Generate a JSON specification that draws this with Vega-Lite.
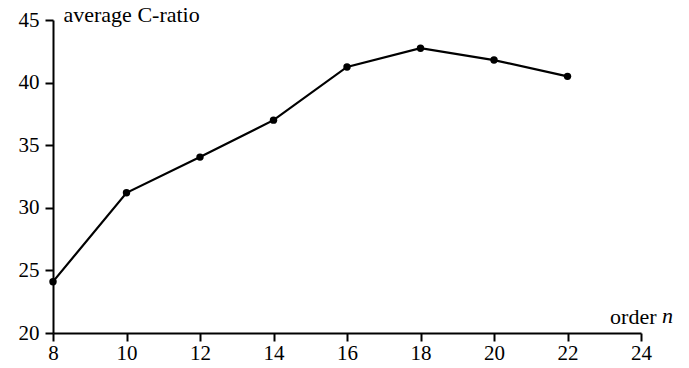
{
  "$schema": "https://vega.github.io/schema/vega-lite/v6.json",
  "width": 588,
  "height": 313,
  "autosize": "none",
  "padding": {"left": 53, "top": 20, "right": 48, "bottom": 35},
  "background": "white",
  "config": {
    "view": {"stroke": null},
    "font": "Liberation Serif",
    "axis": {
      "domainColor": "black",
      "domainWidth": 2,
      "tickColor": "black",
      "tickWidth": 2,
      "tickSize": 8,
      "grid": false,
      "labelFont": "Liberation Serif",
      "labelFontSize": 21,
      "labelColor": "black",
      "titleFont": "Liberation Serif",
      "titleFontSize": 22,
      "titleFontWeight": "normal",
      "titleColor": "black"
    }
  },
  "data": {
    "values": [
      {"n": 8, "ratio": 24.1},
      {"n": 10, "ratio": 31.2},
      {"n": 12, "ratio": 34.05},
      {"n": 14, "ratio": 37.0},
      {"n": 16, "ratio": 41.25},
      {"n": 18, "ratio": 42.75},
      {"n": 20, "ratio": 41.8},
      {"n": 22, "ratio": 40.5}
    ]
  },
  "encoding": {
    "x": {
      "field": "n",
      "type": "quantitative",
      "scale": {"domain": [8, 24], "nice": false, "zero": false},
      "axis": {
        "values": [8, 10, 12, 14, 16, 18, 20, 22, 24],
        "labelFlush": false,
        "labelOverlap": false,
        "labelFont": "Liberation Serif",
        "labelFontSize": 21,
        "labelPadding": 1,
        "title": "order",
        "titleFont": "Liberation Serif",
        "titleFontSize": 22,
        "titleAnchor": null,
        "titleAlign": "right",
        "titleBaseline": "alphabetic",
        "titleX": 603,
        "titleY": -10
      }
    },
    "y": {
      "field": "ratio",
      "type": "quantitative",
      "scale": {"domain": [20, 45], "nice": false, "zero": false},
      "axis": {
        "values": [20, 25, 30, 35, 40, 45],
        "labelFlush": false,
        "labelFont": "Liberation Serif",
        "labelFontSize": 21,
        "labelPadding": 6,
        "title": "average C-ratio",
        "titleFont": "Liberation Serif",
        "titleFontSize": 22,
        "titleAngle": 0,
        "titleAlign": "left",
        "titleBaseline": "alphabetic",
        "titleX": 10,
        "titleY": 1
      }
    }
  },
  "layer": [
    {"mark": {"type": "line", "color": "black", "strokeWidth": 2.2}},
    {"mark": {"type": "point", "filled": true, "color": "black", "size": 55, "opacity": 1}},
    {
      "data": {"values": [{"n": 24, "ratio": 20, "label": "n"}]},
      "mark": {"type": "text", "fontStyle": "italic", "fontSize": 22, "font": "Liberation Serif", "align": "left", "baseline": "alphabetic", "dx": 21, "dy": -10, "color": "black"},
      "encoding": {"text": {"field": "label"}}
    }
  ]
}
